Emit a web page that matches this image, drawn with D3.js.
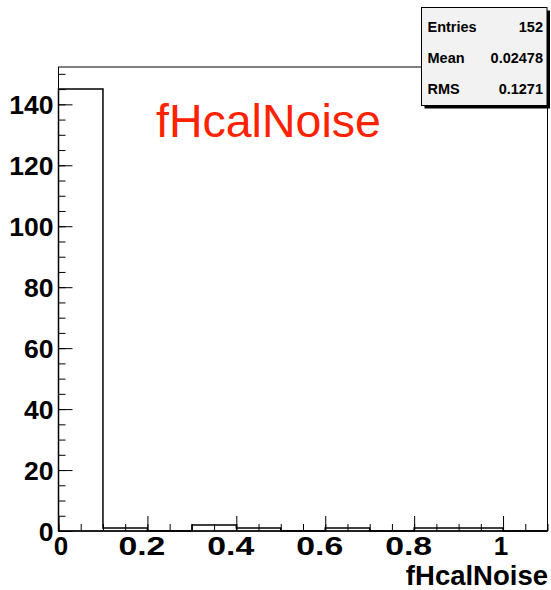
<!DOCTYPE html>
<html>
<head>
    <meta charset="utf-8" />
    <title>fHcalNoise</title>
    <script src="https://d3js.org/d3.v7.min.js"></script>
    <style>
        body { margin: 0; background: #fff; }
        text { font-family: "Liberation Sans", Arial, Helvetica, sans-serif; }
    </style>
</head>
<body>
    <script>
        // histogram data: 11 bins of width 0.1 from 0 to 1.1
        var binEdges = [0, 0.1, 0.2, 0.3, 0.4, 0.5, 0.6, 0.7, 0.8, 0.9, 1.0, 1.1];
        var binCounts = [145, 1, 0, 2, 1, 0, 1, 0, 1, 1, 0];
        var xMajorTicks = [0, 0.2, 0.4, 0.6, 0.8, 1];
        var xTickLabels = ["0", "0.2", "0.4", "0.6", "0.8", "1"];
        var yMajorTicks = [0, 20, 40, 60, 80, 100, 120, 140];
        var statNames = ["Entries", "Mean", "RMS"];
        var statValues = ["152", "0.02478", "0.1271"];
        var histTitle = "fHcalNoise";
        var xTitle = "fHcalNoise";

        var w = 551;
        var h = 590;
        var padL = 58.5, padR = 547.5, padT = 67, padB = 531;

        var svg = d3.select("body")
            .append("svg")
            .attr("width", w)
            .attr("height", h);

        var x = d3.scaleLinear().domain([0, 1.1]).range([padL, padR]);
        var y = d3.scaleLinear().domain([0, 152.25]).range([padB, padT]);

        // minor ticks
        var xMinor = d3.range(0, 1.1001, 0.05);
        var yMinor = d3.range(0, 152, 5);

        svg.append("g")
            .attr("transform", "translate(0," + padB + ")")
            .call(d3.axisBottom(x).tickValues(xMinor).tickSize(-7).tickFormat("").tickSizeOuter(0))
            .call(function (g) { g.select(".domain").remove(); });

        svg.append("g")
            .attr("transform", "translate(" + padL + ",0)")
            .call(d3.axisLeft(y).tickValues(yMinor).tickSize(-7).tickFormat("").tickSizeOuter(0))
            .call(function (g) { g.select(".domain").remove(); });

        // major ticks + labels
        var xAxis = svg.append("g")
            .attr("transform", "translate(0," + padB + ")")
            .call(d3.axisBottom(x).tickValues(xMajorTicks).tickSize(-15).tickSizeOuter(0)
                .tickFormat(function (d, i) { return xTickLabels[i]; }))
            .call(function (g) { g.select(".domain").remove(); });

        xAxis.selectAll("text")
            .attr("y", 24)
            .attr("dy", null)
            .attr("fill", "#000")
            .attr("font-size", 26)
            .attr("font-weight", "bold")
            .attr("font-family", "Liberation Sans, Arial, sans-serif")
            .attr("x", function (d) { return d === 0 ? 2 : (d === 1 ? -2.5 : -6); })
            .attr("textLength", function (d) { return (d === 0 || d === 1) ? null : 47; })
            .attr("lengthAdjust", "spacingAndGlyphs");

        var yAxis = svg.append("g")
            .attr("transform", "translate(" + padL + ",0)")
            .call(d3.axisLeft(y).tickValues(yMajorTicks).tickSize(-14).tickSizeOuter(0))
            .call(function (g) { g.select(".domain").remove(); });

        yAxis.selectAll("text")
            .attr("x", -5)
            .attr("dy", "0.36em")
            .attr("fill", "#000")
            .attr("font-size", 26.5)
            .attr("font-weight", "bold")
            .attr("font-family", "Liberation Sans, Arial, sans-serif");

        svg.selectAll(".tick line").attr("stroke", "#000");

        // frame
        svg.append("rect")
            .attr("x", padL)
            .attr("y", padT)
            .attr("width", padR - padL)
            .attr("height", padB - padT)
            .attr("fill", "none")
            .attr("stroke", "#000")
            .attr("stroke-width", 1);

        svg.append("line")
            .attr("x1", padL).attr("x2", padR)
            .attr("y1", padB).attr("y2", padB)
            .attr("stroke", "#000")
            .attr("stroke-width", 1.6);

        // histogram outline
        var pts = [[binEdges[0], 0]];
        binCounts.forEach(function (c, i) { pts.push([binEdges[i], c]); });
        pts.push([binEdges[binEdges.length - 1], binCounts[binCounts.length - 1]]);

        var line = d3.line()
            .x(function (d) { return x(d[0]); })
            .y(function (d) { return y(d[1]); })
            .curve(d3.curveStepAfter);

        svg.append("path")
            .datum(pts)
            .attr("d", line)
            .attr("fill", "none")
            .attr("stroke", "#000")
            .attr("stroke-width", 1.5);

        // title
        svg.append("text")
            .attr("x", 156)
            .attr("y", 137)
            .attr("font-size", 46.5)
            .attr("fill", "#ff2200")
            .text(histTitle);

        // x axis title
        svg.append("text")
            .attr("x", 548)
            .attr("y", 585)
            .attr("text-anchor", "end")
            .attr("font-size", 27.5)
            .attr("font-weight", "bold")
            .text(xTitle);

        // stats box
        var bx = 421.5, by = 7.5, bw = 125.5, bh = 98;
        svg.append("rect")
            .attr("x", bx + 3).attr("y", by + 3)
            .attr("width", bw).attr("height", bh)
            .attr("fill", "#000");
        svg.append("rect")
            .attr("x", bx).attr("y", by)
            .attr("width", bw).attr("height", bh)
            .attr("fill", "#f2f2f2")
            .attr("stroke", "#000")
            .attr("stroke-width", 1);

        var rows = svg.selectAll(".stat")
            .data(statNames)
            .enter()
            .append("g")
            .attr("class", "stat");

        rows.append("text")
            .attr("x", bx + 6)
            .attr("y", function (d, i) { return 32 + 31 * i; })
            .attr("font-size", 14.5)
            .attr("font-weight", "bold")
            .text(function (d) { return d; });

        rows.append("text")
            .attr("x", bx + bw - 4)
            .attr("y", function (d, i) { return 32 + 31 * i; })
            .attr("text-anchor", "end")
            .attr("font-size", 14.5)
            .attr("font-weight", "bold")
            .text(function (d, i) { return statValues[i]; });
    </script>
</body>
</html>
